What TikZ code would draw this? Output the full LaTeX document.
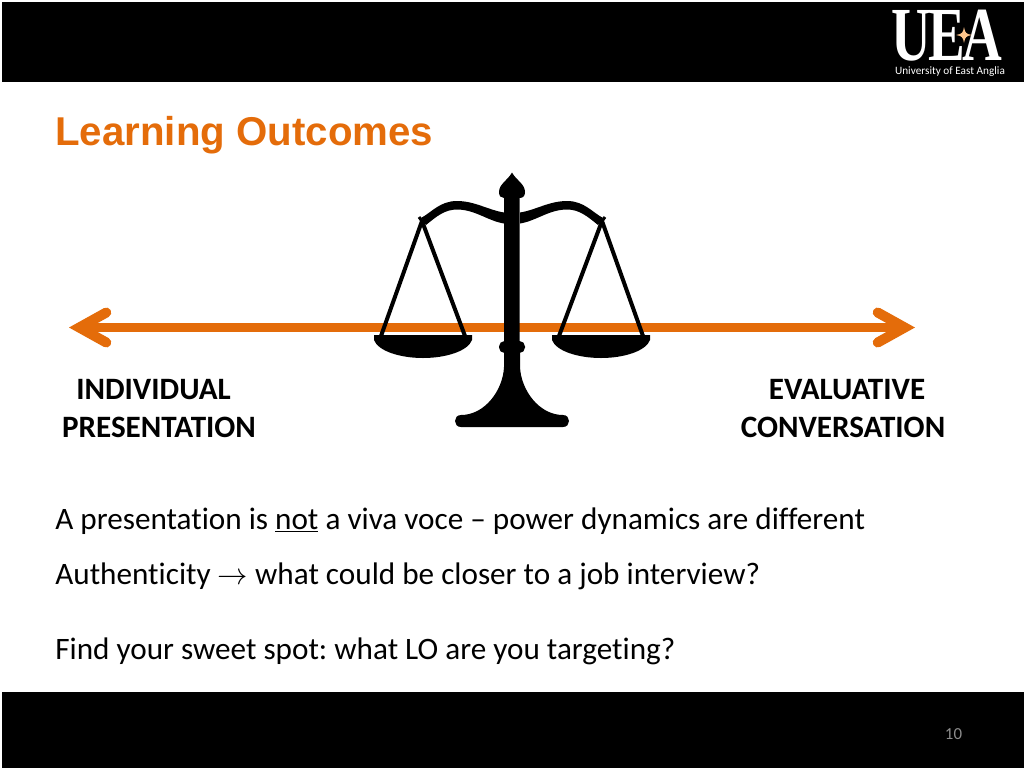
\documentclass[tikz,border=0pt]{standalone}
\usepackage{fontspec}
\setmainfont[Ligatures=NoCommon]{Carlito}
\newfontfamily\titlefont{Liberation Sans}
\newfontfamily\logofont{Liberation Serif}
\usetikzlibrary{arrows.meta}
\definecolor{ueaorange}{HTML}{E46C0A}
\frenchspacing
\tikzset{
orangetip/.tip={Straight Barb[length=0.54cm,width=0.6cm,line width=0.2cm,line cap=round,line join=miter]},
scalepan/.pic={
\draw[line width=0.08cm] (422,221) -- (381,336);
\draw[line width=0.08cm] (422,221) -- (465,336);
\draw[line width=0.06cm] (419,217) -- (424,224);
\fill (504,212.5) .. controls (488,210) and (475,201) .. (457,201) .. controls (440,201) and (432,212) .. (421,218) -- (426,225) .. controls (437,216) and (445,209.5) .. (457,209.5) .. controls (475,209.5) and (488,221) .. (504,223.5) -- cycle;
\fill (374,335) -- (472,335) -- (472,340) .. controls (468,351) and (446,358) .. (423,358) .. controls (400,358) and (378,351) .. (374,340) -- cycle;
}
}
\begin{document}
\begin{tikzpicture}[x=0.02cm,y=-0.02cm,
bodytext/.style={anchor=base west,inner sep=0pt,font=\fontsize{17.75}{20}\selectfont},
headtext/.style={anchor=base,inner sep=0pt,font=\fontsize{17.7}{20}\selectfont\bfseries},
logoletter/.style={anchor=base,inner sep=0pt,white,xscale=0.72,font=\fontsize{43.5}{44}\logofont\bfseries},
]
\useasboundingbox (0,0) rectangle (1024,768);
\fill[black] (2,2) rectangle (1024,82);
\fill[black] (2,692) rectangle (1024,768);
% logo
\node[logoletter] (logou) at (911,60) {U};
\node[logoletter] (logoe) at (947,60) {E};
\node[logoletter] (logoa) at (982,60) {A};
\fill[orange!45!white] (964,27) .. controls (965,33) and (966,34) .. (972,35) .. controls (966,36) and (965,37) .. (964,43) .. controls (963,37) and (962,36) .. (956,35) .. controls (962,34) and (963,33) .. (964,27) -- cycle;
\node[anchor=base,inner sep=0pt,white,font=\fontsize{6.4}{7}\selectfont] (logotext) at (950,74) {University of East Anglia};
\node[anchor=base west,inner sep=0pt,ueaorange,font=\fontsize{22.9}{24}\titlefont\bfseries] (title) at (55,145) {Learning Outcomes};
% the line
\coordinate (leftend) at (69,327.5);
\coordinate (rightend) at (915,327.5);
\draw[ueaorange,line width=0.168cm,{orangetip}-{orangetip}] (leftend) -- (rightend);
% the scales
\fill (512,172.5) .. controls (508,180) and (499,184) .. (499,192) .. controls (499,196) and (501,198) .. (504,198) -- (504,360) -- (519.5,360) -- (519.5,198) .. controls (523,198) and (525,196) .. (525,192) .. controls (525,184) and (516,180) .. (512,172.5) -- cycle;
\fill[rounded corners=0.11cm] (499,341) rectangle (525,353);
\fill (504,350) -- (504,367) .. controls (503,390) and (485,415) .. (461,415) .. controls (453,415) and (453,427) .. (461,427) -- (563,427) .. controls (571,427) and (571,415) .. (563,415) .. controls (539,415) and (521,390) .. (520,367) -- (520,350) -- cycle;
\pic {scalepan};
\pic[xscale=-1] at (1024,0) {scalepan};
% labels
\node[headtext] (indiv) at (153.5,399) {INDIVIDUAL};
\node[headtext] (pres) at (159,437) {PRESENTATION};
\node[headtext] (eval) at (847,399) {EVALUATIVE};
\node[headtext] (conv) at (843,437) {CONVERSATION};
\node[bodytext] (powerline) at (55,529) {A presentation is \underline{not} a viva voce -- power dynamics are different};
\node[bodytext] (authline) at (55,584) {Authenticity $\rightarrow$ what could be closer to a job interview?};
\node[bodytext] (sweetline) at (55,659) {Find your sweet spot: what LO are you targeting?};
\node[anchor=base,inner sep=0pt,black!45,font=\fontsize{9.6}{12}\selectfont] (pagenum) at (953.5,739) {10};
\end{tikzpicture}
\end{document}
